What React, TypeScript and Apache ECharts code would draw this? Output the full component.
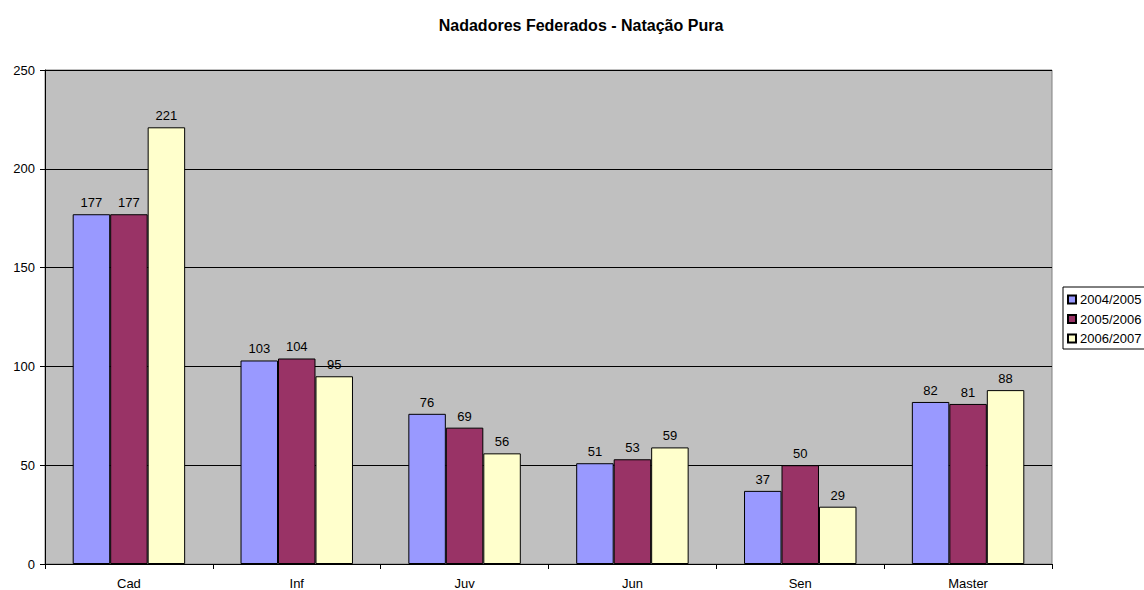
import React, { useEffect, useRef } from "react";
import * as echarts from "echarts";

const categories = ["Cad", "Inf", "Juv", "Jun", "Sen", "Master"];
const seriesNames = ["2004/2005", "2005/2006", "2006/2007"];
const s2004 = [177, 103, 76, 51, 37, 82];
const s2005 = [177, 104, 69, 53, 50, 81];
const s2006 = [221, 95, 56, 59, 29, 88];
const colors = ["#9999FF", "#993366", "#FFFFCC"];

export default function App() {
  const ref = useRef<HTMLDivElement>(null);
  useEffect(() => {
    const chart = echarts.init(ref.current!, null, { renderer: "svg" });
    const font = "'Liberation Sans', Arial, sans-serif";
    const data = [s2004, s2005, s2006];
    chart.setOption({
      animation: false,
      backgroundColor: "#ffffff",
      textStyle: { fontFamily: font },
      title: {
        text: "Nadadores Federados - Natação Pura",
        left: 576,
        top: 12,
        textAlign: "center",
        textStyle: { fontSize: 16, fontWeight: "bold", color: "#000", fontFamily: font },
      },
      legend: {
        orient: "vertical",
        left: 1063,
        top: 287,
        data: seriesNames,
        icon: "rect",
        itemWidth: 8,
        itemHeight: 8,
        itemGap: 6.5,
        padding: [6, 4, 4, 4],
        backgroundColor: "#ffffff",
        borderColor: "#000",
        borderWidth: 1,
        textStyle: { fontSize: 13, lineHeight: 13, color: "#000", fontFamily: font, padding: [0, 0, 0, -1] },
      },
      grid: {
        left: 45,
        right: 92,
        top: 70,
        bottom: 25,
        show: true,
        backgroundColor: "#C0C0C0",
        borderColor: "#808080",
        borderWidth: 1,
      },
      xAxis: {
        type: "category",
        data: categories,
        axisLine: { show: true, lineStyle: { color: "#000", width: 1 } },
        axisTick: { show: true, alignWithLabel: false, length: 5, lineStyle: { color: "#000" } },
        axisLabel: { color: "#000", fontSize: 13, margin: 13, fontFamily: font },
      },
      yAxis: {
        type: "value",
        min: 0,
        max: 250,
        interval: 50,
        axisLine: { show: true, lineStyle: { color: "#000", width: 1 } },
        axisTick: { show: true, length: 5, lineStyle: { color: "#000" } },
        axisLabel: { color: "#000", fontSize: 13, margin: 10, fontFamily: font },
        splitLine: { show: true, lineStyle: { color: "#000", width: 1 } },
      },
      series: seriesNames.map((name, i) => ({
        name,
        type: "bar",
        data: data[i],
        barGap: "0%",
        barCategoryGap: "33%",
        itemStyle: { color: colors[i], borderColor: "#000", borderWidth: 1 },
        label: {
          show: true,
          position: "top",
          distance: 5,
          color: "#000",
          fontSize: 13,
          fontFamily: font,
        },
      })),
    });
    return () => chart.dispose();
  }, []);
  return (
    <div
      ref={ref}
      style={{ position: "fixed", left: 0, top: 0, width: 1144, height: 590 }}
    />
  );
}
